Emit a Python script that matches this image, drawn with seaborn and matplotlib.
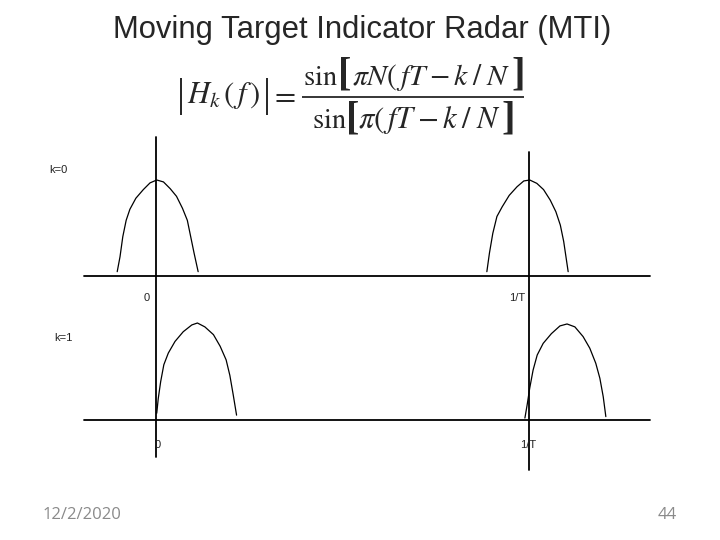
import numpy as np
import pandas as pd
import matplotlib
matplotlib.use("Agg")
import matplotlib.pyplot as plt
from matplotlib.lines import Line2D
import seaborn as sns

# ---- data (frequency in units of 1/T, normalised amplitude) ----
k0_lobe0_f = [-0.104, -0.0965, -0.089, -0.080, -0.070, -0.054, -0.034, -0.016, 0.002,
              0.020, 0.038, 0.055, 0.071, 0.084, 0.093, 0.102, 0.113]
k0_lobe0_a = [0.045, 0.20, 0.41, 0.58, 0.695, 0.81, 0.90, 0.97, 1.0,
              0.98, 0.91, 0.83, 0.705, 0.58, 0.41, 0.24, 0.045]
k0_lobe1_f = [0.887, 0.894, 0.903, 0.914, 0.928, 0.947, 0.968, 0.986, 1.002,
              1.021, 1.039, 1.057, 1.072, 1.084, 1.093, 1.105]
k0_lobe1_a = [0.045, 0.24, 0.445, 0.62, 0.72, 0.84, 0.93, 0.99, 1.0,
              0.965, 0.90, 0.79, 0.67, 0.53, 0.36, 0.045]
k1_lobe0_f = [0.002, 0.006, 0.0125, 0.021, 0.033, 0.051, 0.073, 0.096, 0.111,
              0.131, 0.154, 0.172, 0.188, 0.198, 0.207, 0.216]
k1_lobe0_a = [0.07, 0.22, 0.395, 0.57, 0.69, 0.81, 0.91, 0.98, 1.0,
              0.96, 0.88, 0.76, 0.62, 0.46, 0.26, 0.05]
k1_lobe1_f = [0.989, 0.995, 1.002, 1.011, 1.022, 1.038, 1.060, 1.083, 1.102,
              1.123, 1.145, 1.163, 1.179, 1.190, 1.199, 1.206]
k1_lobe1_a = [0.02, 0.155, 0.33, 0.515, 0.67, 0.79, 0.89, 0.97, 0.99,
              0.96, 0.86, 0.74, 0.585, 0.43, 0.24, 0.035]
panel_labels = ["k=0", "k=1"]
tick_labels = ["0", "1/T"]
tick_positions = [0.0, 1.0]
title = "Moving Target Indicator Radar (MTI)"
footer_date = "12/2/2020"
footer_page = "44"

sns.set_theme(style="white")
plt.rcParams["font.family"] = ["Liberation Sans", "DejaVu Sans"]
plt.rcParams["mathtext.fontset"] = "stix"

W, H = 720, 540
fig = plt.figure(figsize=(7.2, 5.4), dpi=100)

xlim = ((0 - 156) / 373, (W - 156) / 373)


def make_axes(top_px, bot_px, base_px, peak_px):
    ax = fig.add_axes([0, 1 - bot_px / H, 1, (bot_px - top_px) / H])
    amp = base_px - peak_px
    ax.set_xlim(*xlim)
    ax.set_ylim((base_px - bot_px) / amp, (base_px - top_px) / amp)
    ax.set_axis_off()
    return ax, amp


ax0, amp0 = make_axes(130, 300, 276, 180)
ax1, amp1 = make_axes(300, 480, 420, 323)

frames = [
    (ax0, k0_lobe0_f, k0_lobe0_a), (ax0, k0_lobe1_f, k0_lobe1_a),
    (ax1, k1_lobe0_f, k1_lobe0_a), (ax1, k1_lobe1_f, k1_lobe1_a),
]
for ax, f, a in frames:
    df = pd.DataFrame({"f": f, "a": a})
    sns.lineplot(data=df, x="f", y="a", ax=ax, color="black", lw=0.9, sort=False,
                 legend=False)

# horizontal axis lines
left_f, right_f = (84 - 156) / 373, (650 - 156) / 373
for ax in (ax0, ax1):
    ax.plot([left_f, right_f], [0, 0], color="black", lw=1.3, clip_on=False)

# vertical lines (span both panels)
ax0.plot([tick_positions[0]] * 2, [(276 - 137) / amp0, (276 - 457) / amp0],
         color="black", lw=1.3, clip_on=False)
ax0.plot([tick_positions[1]] * 2, [(276 - 152) / amp0, (276 - 470) / amp0],
         color="black", lw=1.3, clip_on=False)


def ftext(x, y, s, **kw):
    fig.text(x / W, 1 - y / H, s, **kw)


def fline(xs, ys, lw=1.2):
    fig.add_artist(Line2D([x / W for x in xs], [1 - y / H for y in ys], lw=lw,
                          color="black", transform=fig.transFigure,
                          solid_capstyle="butt"))


ftext(362, 38, title, ha="center", va="baseline", fontsize=22.3)

# ---- formula, set piece by piece ----
fs = 22
mkw = dict(fontsize=fs, ha="left", va="baseline")
nkw = dict(fontsize=21.3, ha="left", va="baseline")
skw = dict(fontsize=20.5, ha="left", va="baseline")
bkw = dict(fontsize=29, ha="center", va="center", family="Liberation Serif",
           fontweight="bold")
fline([180.5, 180.5], [78, 115])
ftext(187, 103, r"$H_k\,(\,f\,)$", **mkw)
fline([266.5, 266.5], [78, 115])
ftext(283, 104, r"$=$", fontsize=fs, ha="center", va="baseline")
fline([302, 524], [97, 97], lw=1.1)
# numerator
ftext(303, 85, r"$\sin$", **skw)
ftext(344.5, 74.5, "[", **bkw)
ftext(352.5, 85, r"$\pi N(\,fT-k\;/\;N$", **nkw)
ftext(518.5, 74.5, "]", **bkw)
# denominator
ftext(312, 128, r"$\sin$", **skw)
ftext(352.5, 119.5, "[", **bkw)
ftext(358, 128, r"$\pi(\,fT-k\;/\;N$", **mkw)
ftext(508, 119.5, "]", **bkw)

lab_kw = dict(ha="center", va="center", fontsize=8, color="#222222")
ftext(58, 170, panel_labels[0], **lab_kw)
ftext(63, 338, panel_labels[1], **lab_kw)
ftext(147, 298, tick_labels[0], **lab_kw)
ftext(517, 298, tick_labels[1], **lab_kw)
ftext(158, 445, tick_labels[0], **lab_kw)
ftext(528, 445, tick_labels[1], **lab_kw)

ftext(43, 515, footer_date, ha="left", va="center", fontsize=12, color="#8a8a8a",
      family=["Open Sans", "DejaVu Sans"])
ftext(677, 515, footer_page, ha="right", va="center", fontsize=12, color="#8a8a8a",
      family=["Open Sans", "DejaVu Sans"])

fig.savefig("out.png", dpi=100)
